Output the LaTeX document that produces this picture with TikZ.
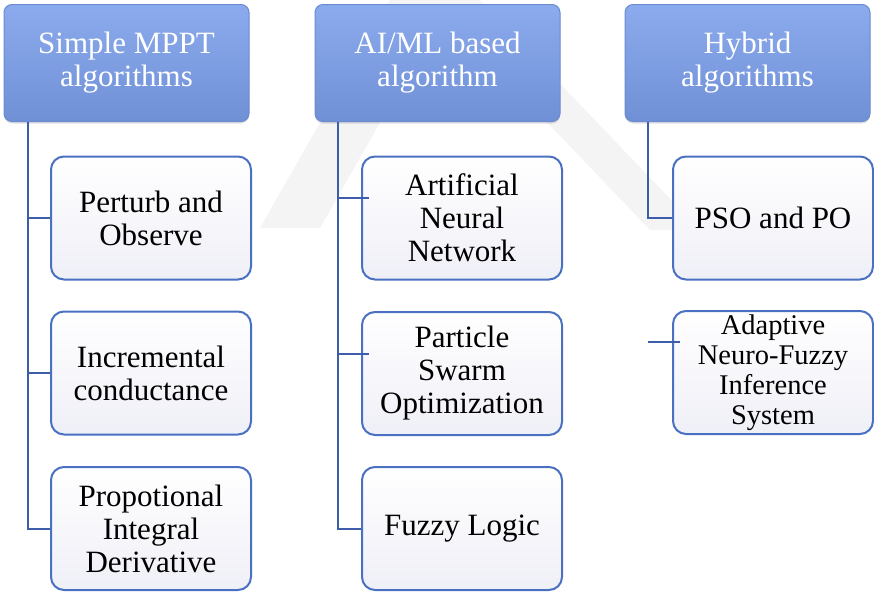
\documentclass[tikz,border=0pt]{standalone}
\usepackage{fontspec}
\setmainfont{Liberation Serif}
\usepackage{tikz}
\usetikzlibrary{shadows}
\definecolor{hdrtop}{HTML}{8CABEE}
\definecolor{hdrmid}{HTML}{7D9CE0}
\definecolor{hdrbot}{HTML}{7090D6}
\definecolor{hdredge}{HTML}{6B8BD0}
\definecolor{boxedge}{HTML}{4A70C2}
\definecolor{boxbot}{HTML}{EFEFF7}
\definecolor{linkblue}{HTML}{3D5DA8}
\definecolor{wmgray}{HTML}{F4F4F4}
\newcommand{\bigtxt}{\fontsize{31}{33}\selectfont}
\newcommand{\smalltxt}{\fontsize{28.5}{30}\selectfont}

\begin{document}
\begin{tikzpicture}[x=1pt, y=-1pt,
		head/.style={draw=hdredge, line width=1pt, rounded corners=8pt, top color=hdrtop, middle color=hdrmid, bottom color=hdrbot, text=white, align=center, minimum width=245pt, minimum height=117pt, inner sep=0pt, font=\bigtxt, drop shadow={opacity=0.25, shadow xshift=0pt, shadow yshift=-2pt}},
		algo/.style={draw=boxedge, line width=2pt, rounded corners=13pt, top color=white, bottom color=boxbot, align=center, minimum width=200pt, minimum height=123pt, inner sep=0pt, font=\bigtxt},
		link/.style={draw=linkblue, line width=2pt}]
		\useasboundingbox (0,0) rectangle (874,592);
		
		% faint watermark behind the chart
		\fill[wmgray] (390,0) -- (450,0) -- (320,228) -- (260,228) -- cycle;
		\fill[wmgray] (430,0) -- (480,0) -- (700,230) -- (650,230) -- cycle;
		
		\draw (126.5,63) node[head] (simple) {Simple MPPT\\algorithms};
		\draw (437.5,63) node[head] (aiml) {AI/ML based\\algorithm};
		\draw (747.5,63) node[head] (hybrid) {Hybrid\\algorithms};
		
		\draw (151,218) node[algo] (po) {Perturb and\\Observe};
		\draw (151,373) node[algo] (inc) {Incremental\\conductance};
		\draw (151,528.5) node[algo] (pid) {Propotional\\Integral\\Derivative};
		
		\draw (462,218) node[algo] (ann) {Artificial\\Neural\\Network};
		\draw (462,373.5) node[algo] (pso) {Particle\\Swarm\\Optimization};
		\draw (462,528.5) node[algo] (fuzzy) {Fuzzy Logic};
		
		\draw (773,218) node[algo] (psopo) {PSO and PO};
		\draw (773,372.5) node[algo, font=\smalltxt] (anfis) {Adaptive\\Neuro-Fuzzy\\Inference\\System};
		
		% simple MPPT branch
		\draw[link] ([xshift=24pt]simple.south west) |- (pid.west);
		\draw[link] ([xshift=24pt]simple.south west) |- (po.west);
		\draw[link] ([xshift=24pt]simple.south west) |- (inc.west);
		
		% AI/ML branch
		\draw[link] ([xshift=23pt]aiml.south west) |- (fuzzy.west);
		\draw[link] ([xshift=8pt,yshift=20pt]ann.west) -| ([xshift=23pt]aiml.south west);
		\draw[link] ([xshift=8pt,yshift=20pt]pso.west) -| ([xshift=23pt]aiml.south west);
		
		% hybrid branch
		\draw[link] ([xshift=23pt]hybrid.south west) |- (psopo.west);
		\draw[link] ([xshift=8pt,yshift=31pt]anfis.west) -- ++(-32,0);
	\end{tikzpicture}
\end{document}
